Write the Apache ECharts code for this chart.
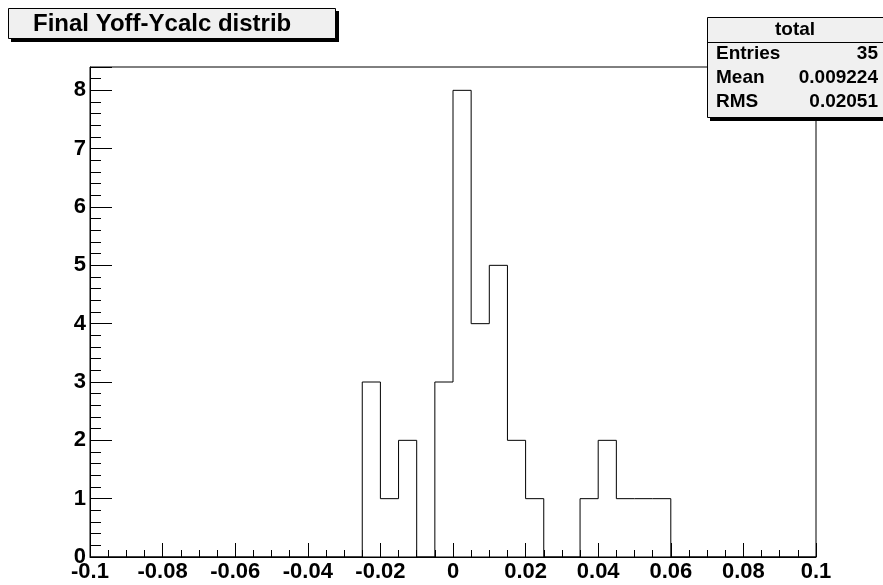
<!DOCTYPE html>
<html>
<head>
<meta charset="utf-8">
<script src="https://cdn.jsdelivr.net/npm/echarts@6/dist/echarts.min.js"></script>
<style>
  html, body { margin: 0; padding: 0; background: #ffffff; }
  #main { width: 883px; height: 585px; }
</style>
</head>
<body>
<div id="main"></div>
<script>
// histogram "total": 40 bins from -0.1 to 0.1
var binStart = -0.1;
var binWidth = 0.005;
var counts = [0, 0, 0, 0, 0, 0, 0, 0, 0, 0,
              0, 0, 0, 0, 0, 3, 1, 2, 0, 3,
              8, 4, 5, 2, 1, 0, 0, 1, 2, 1,
              1, 1, 0, 0, 0, 0, 0, 0, 0, 0];
var xTicks = [-0.1, -0.08, -0.06, -0.04, -0.02, 0, 0.02, 0.04, 0.06, 0.08, 0.1];
var yTicks = [0, 1, 2, 3, 4, 5, 6, 7, 8];
var titleText = "Final Yoff-Ycalc distrib";
var statNames = ["Entries", "Mean", "RMS"];
var statValues = ["35", "0.009224", "0.02051"];

var FONT = "'Liberation Sans', Arial, Helvetica, sans-serif";

// step outline points at bin edges
var steps = [];
for (var i = 0; i < counts.length; i++) {
  steps.push([+(binStart + i * binWidth).toFixed(4), counts[i]]);
}
steps.push([+(binStart + counts.length * binWidth).toFixed(4), 0]);

var chart = echarts.init(document.getElementById('main'), null, { renderer: 'canvas' });

var statRows = [];
for (var k = 0; k < statNames.length; k++) {
  statRows.push({
    type: 'text', x: 716, y: 54 + k * 24,
    style: { text: statNames[k], font: 'bold 19px ' + FONT, fill: '#000', verticalAlign: 'middle' }
  });
  statRows.push({
    type: 'text', x: 878, y: 54 + k * 24,
    style: { text: statValues[k], font: 'bold 19px ' + FONT, fill: '#000', align: 'right', verticalAlign: 'middle' }
  });
}

var option = {
  animation: false,
  backgroundColor: '#ffffff',
  grid: {
    left: 90, right: 67, top: 67, bottom: 28,
    show: true, borderColor: '#000', borderWidth: 1, backgroundColor: 'transparent'
  },
  xAxis: [{
    type: 'value', min: -0.1, max: 0.1, interval: 0.02,
    axisLine: { show: true, onZero: false, lineStyle: { color: '#000', width: 1 } },
    axisTick: { show: true, inside: true, length: 14, lineStyle: { color: '#000' } },
    minorTick: { show: true, splitNumber: 4, length: 7, lineStyle: { color: '#000' } },
    splitLine: { show: false },
    axisLabel: {
      margin: 4, color: '#000', fontWeight: 'bold', fontSize: 22, fontFamily: FONT,
      formatter: function (v) { return String(parseFloat(v.toFixed(2))); }
    }
  }],
  yAxis: [{
    type: 'value', min: 0, max: 8.4, interval: 1,
    axisLine: { show: true, onZero: false, lineStyle: { color: '#000', width: 1 } },
    axisTick: { show: true, inside: true, length: 22, lineStyle: { color: '#000' } },
    splitLine: { show: false },
    axisLabel: {
      margin: 4, color: '#000', fontWeight: 'bold', fontSize: 22, fontFamily: FONT,
      formatter: function (v) { return yTicks.indexOf(Math.round(v * 1000) / 1000) >= 0 ? String(v) : ''; }
    }
  }, {
    type: 'value', min: 0, max: 8.4, interval: 0.2, position: 'left',
    axisLine: { show: false, onZero: false },
    axisTick: { show: true, inside: true, length: 11, lineStyle: { color: '#000' } },
    splitLine: { show: false },
    axisLabel: { show: false }
  }],
  series: [{
    type: 'line',
    step: 'end',
    data: steps,
    symbol: 'none',
    lineStyle: { color: '#000', width: 1 },
    z: 3
  }],
  graphic: [
    // title box with shadow
    { type: 'rect', shape: { x: 11, y: 11, width: 328, height: 31 }, style: { fill: '#000' }, z: 10 },
    { type: 'rect', shape: { x: 8.5, y: 8.5, width: 327, height: 30 }, style: { fill: '#f0f0f0', stroke: '#000', lineWidth: 1 }, z: 11 },
    { type: 'text', x: 33, y: 24, z: 12,
      style: { text: titleText, font: 'bold 24px ' + FONT, fill: '#000', verticalAlign: 'middle' } },
    // stats box with shadow
    { type: 'rect', shape: { x: 710, y: 20, width: 180, height: 101 }, style: { fill: '#000' }, z: 10 },
    { type: 'rect', shape: { x: 707.5, y: 17.5, width: 180, height: 100 }, style: { fill: '#f0f0f0', stroke: '#000', lineWidth: 1 }, z: 11 },
    { type: 'line', shape: { x1: 707.5, y1: 42.5, x2: 883, y2: 42.5 }, style: { stroke: '#000', lineWidth: 1 }, z: 12 },
    { type: 'text', x: 795, y: 30, z: 12,
      style: { text: 'total', font: 'bold 19px ' + FONT, fill: '#000', align: 'center', verticalAlign: 'middle' } }
  ].concat(statRows.map(function (r) { r.z = 12; return r; }))
};

chart.setOption(option);
</script>
</body>
</html>
